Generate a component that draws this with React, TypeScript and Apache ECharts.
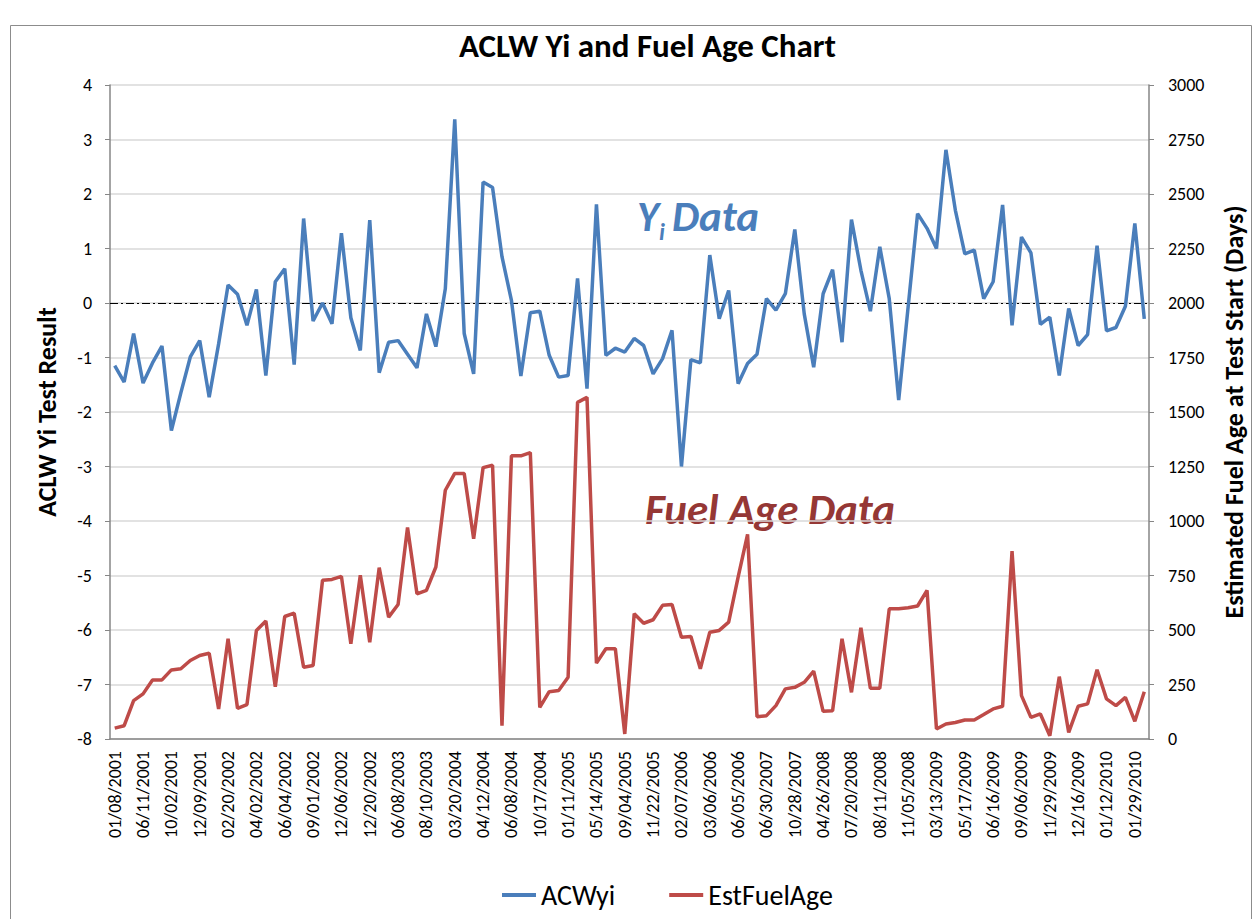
import React, { useEffect, useRef } from "react";
import * as echarts from "echarts";

const dateLabels = [
  "01/08/2001", "06/11/2001", "10/02/2001", "12/09/2001", "02/20/2002", "04/02/2002",
  "06/04/2002", "09/01/2002", "12/06/2002", "12/20/2002", "06/08/2003", "08/10/2003",
  "03/20/2004", "04/12/2004", "06/08/2004", "10/17/2004", "01/11/2005", "05/14/2005",
  "09/04/2005", "11/22/2005", "02/07/2006", "03/06/2006", "06/05/2006", "06/30/2007",
  "10/28/2007", "04/26/2008", "07/20/2008", "08/11/2008", "11/05/2008", "03/13/2009",
  "05/17/2009", "06/16/2009", "09/06/2009", "11/29/2009", "12/16/2009", "01/12/2010",
  "01/29/2010",
];

const yiData = [
  -1.15, -1.45, -0.56, -1.47, -1.1, -0.79, -2.34, -1.65, -0.99, -0.69,
  -1.73, -0.75, 0.33, 0.16, -0.41, 0.25, -1.33, 0.39, 0.63, -1.13,
  1.55, -0.33, 0.0, -0.38, 1.28, -0.27, -0.87, 1.52, -1.28, -0.72,
  -0.69, -0.94, -1.19, -0.2, -0.8, 0.26, 3.37, -0.56, -1.3, 2.22,
  2.12, 0.85, 0.05, -1.34, -0.18, -0.15, -0.96, -1.36, -1.33, 0.45,
  -1.57, 1.81, -0.96, -0.83, -0.9, -0.65, -0.78, -1.3, -1.02, -0.5,
  -3.0, -1.04, -1.1, 0.88, -0.29, 0.23, -1.48, -1.11, -0.94, 0.08,
  -0.13, 0.17, 1.35, -0.2, -1.18, 0.17, 0.61, -0.72, 1.53, 0.6,
  -0.15, 1.03, 0.08, -1.78, -0.07, 1.64, 1.37, 1.0, 2.81, 1.7,
  0.9, 0.97, 0.08, 0.39, 1.8, -0.41, 1.21, 0.92, -0.39, -0.26,
  -1.33, -0.1, -0.78, -0.58, 1.05, -0.51, -0.45, -0.06, 1.46, -0.29,
];

const fuelData = [
  50, 61, 176, 207, 271, 271, 317, 322, 360, 383,
  393, 138, 460, 141, 158, 498, 541, 240, 562, 577,
  329, 337, 728, 732, 746, 437, 751, 444, 786, 559,
  617, 970, 666, 682, 789, 1141, 1218, 1218, 919, 1245,
  1256, 61, 1299, 1299, 1314, 145, 217, 222, 283, 1544,
  1567, 348, 414, 414, 23, 575, 531, 547, 613, 617,
  467, 470, 322, 490, 498, 536, 743, 939, 102, 107,
  153, 230, 237, 260, 311, 127, 130, 460, 214, 510,
  233, 233, 597, 597, 602, 610, 682, 46, 69, 76,
  87, 87, 112, 138, 150, 862, 199, 99, 115, 15,
  286, 30, 150, 161, 318, 184, 153, 191, 81, 217,
];

const leftTicks = { min: -8, max: 4, interval: 1 };
const rightTicks = { min: 0, max: 3000, interval: 250 };

const FONT = "Carlito, 'Noto Sans', 'Open Sans', sans-serif";
const AXIS_GRAY = "#868686";
const BLUE = "#4a7ebb";
const RED = "#be4b48";

export default function App() {
  const ref = useRef<HTMLDivElement>(null);

  useEffect(() => {
    document.body.style.margin = "0";
    if (!ref.current) return;
    const chart = echarts.init(ref.current, undefined, { renderer: "svg" });
    const categories = yiData.map((_, i) => String(i));

    chart.setOption({
      animation: false,
      backgroundColor: "#ffffff",
      textStyle: { fontFamily: FONT },
      title: {
        text: "ACLW Yi and Fuel Age Chart",
        left: 454,
        top: 24,
        textStyle: { fontFamily: FONT, fontSize: 33, fontWeight: "bold", color: "#000" },
      },
      grid: {
        left: 110,
        right: 106,
        top: 85,
        bottom: 180,
        containLabel: false,
        outerBoundsMode: "none",
      },
      legend: {
        left: 497,
        top: 876,
        icon: "rect",
        itemWidth: 34,
        itemHeight: 4,
        itemGap: 54,
        data: ["ACWyi", "EstFuelAge"],
        textStyle: { fontFamily: FONT, fontSize: 28, color: "#000" },
      },
      xAxis: {
        type: "category",
        data: categories,
        boundaryGap: true,
        axisLine: { onZero: false, lineStyle: { color: AXIS_GRAY, width: 1.5 } },
        axisTick: { interval: 0, length: 5, lineStyle: { color: AXIS_GRAY } },
        axisLabel: {
          interval: 2,
          rotate: 90,
          margin: 12,
          fontSize: 18,
          color: "#000",
          fontFamily: FONT,
          formatter: (_v: string, idx: number) =>
            idx % 3 === 0 && dateLabels[idx / 3] ? dateLabels[idx / 3] : "",
        },
        splitLine: { show: false },
      },
      yAxis: [
        {
          type: "value",
          ...leftTicks,
          position: "left",
          name: "ACLW Yi Test Result",
          nameLocation: "middle",
          nameGap: 50,
          nameRotate: 90,
          nameTextStyle: { fontFamily: FONT, fontSize: 26, fontWeight: "bold", color: "#000" },
          axisLine: { show: true, lineStyle: { color: AXIS_GRAY, width: 1.5 } },
          axisTick: { show: true, length: 5, lineStyle: { color: AXIS_GRAY } },
          axisLabel: { fontSize: 18, color: "#000", margin: 18, fontFamily: FONT },
          splitLine: { show: true, lineStyle: { color: "#d9d9d9", width: 1.5 } },
        },
        {
          type: "value",
          ...rightTicks,
          position: "right",
          name: "Estimated Fuel Age at Test Start (Days)",
          nameLocation: "middle",
          nameGap: 72,
          nameRotate: 90,
          nameTextStyle: { fontFamily: FONT, fontSize: 26, fontWeight: "bold", color: "#000" },
          axisLine: { show: true, lineStyle: { color: AXIS_GRAY, width: 1.5 } },
          axisTick: { show: true, length: 5, lineStyle: { color: AXIS_GRAY } },
          axisLabel: {
            fontSize: 18,
            color: "#000",
            margin: 19,
            fontFamily: FONT,
            formatter: (v: number) => String(v),
          },
          splitLine: { show: false },
        },
      ],
      series: [
        {
          name: "ACWyi",
          type: "line",
          yAxisIndex: 0,
          data: yiData,
          symbol: "none",
          lineStyle: { color: BLUE, width: 3.5 },
          itemStyle: { color: BLUE },
          z: 3,
          markLine: {
            silent: true,
            symbol: ["none", "none"],
            label: { show: false },
            lineStyle: { color: "#000", width: 1.2, type: [8, 3, 2, 3] },
            data: [{ yAxis: 0 }],
            z: 2,
          },
        },
        {
          name: "EstFuelAge",
          type: "line",
          yAxisIndex: 1,
          data: fuelData,
          symbol: "none",
          lineStyle: { color: RED, width: 3.5 },
          itemStyle: { color: RED },
          z: 3,
        },
      ],
      graphic: [
        {
          type: "rect",
          silent: true,
          shape: { x: 10.5, y: 25.5, width: 1241, height: 920 },
          style: { fill: "none", stroke: "#8c8c8c", lineWidth: 1 },
          z: -1,
        },
        {
          type: "text",
          left: 637,
          top: 195,
          style: { text: "Y", fill: BLUE, font: `italic bold 42px ${FONT}` },
        },
        {
          type: "text",
          left: 659,
          top: 219,
          style: { text: "i", fill: BLUE, font: `italic bold 24px ${FONT}` },
        },
        {
          type: "text",
          left: 672,
          top: 195,
          style: { text: "Data", fill: BLUE, font: `italic bold 43px ${FONT}` },
        },
        {
          type: "text",
          left: 645,
          top: 488,
          style: { text: "Fuel Age Data", fill: "#953735", font: `italic bold 43px ${FONT}` },
        },
      ],
    });

    return () => chart.dispose();
  }, []);

  return <div ref={ref} style={{ width: 1255, height: 919 }} />;
}
